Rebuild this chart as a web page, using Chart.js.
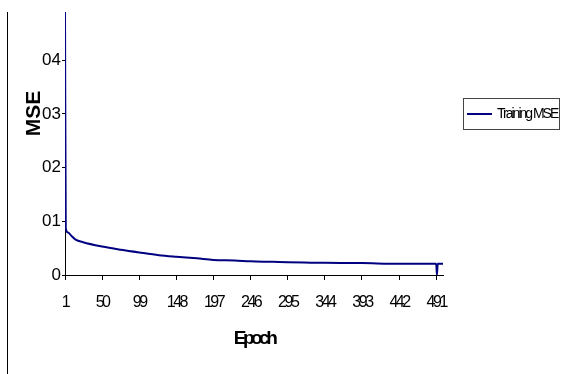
<!DOCTYPE html>
<html><head><meta charset="utf-8">
<script src="https://cdn.jsdelivr.net/npm/chart.js@4/dist/chart.umd.min.js"></script>
<style>
html,body{margin:0;padding:0;background:#fff;}
#wrap{position:relative;width:563px;height:374px;}
#vline{position:absolute;left:7px;top:12px;width:1px;height:362px;background:#000;}
canvas{position:absolute;left:0;top:0;}
</style></head><body>
<div id="wrap"><div id="vline"></div><canvas id="c" width="563" height="374"></canvas></div>
<script>
const epochs = [1, 2, 5, 10, 15, 25, 50, 75, 99, 125, 148, 175, 197, 225, 246, 275, 295, 325, 344, 393, 442, 491, 492, 493, 500];
const mseValues = [0.49, 0.087, 0.079, 0.072, 0.066, 0.061, 0.053, 0.047, 0.042, 0.037, 0.034, 0.031, 0.028, 0.027, 0.0255, 0.0245, 0.0236, 0.023, 0.0227, 0.0222, 0.021, 0.021, 0, 0.021, 0.021];
const xTickValues = [1, 50, 99, 148, 197, 246, 295, 344, 393, 442, 491];
const yTickLabels = ['0', '01', '02', '03', '04'];
const seriesName = 'Training MSE';
const xTitle = 'Epoch';
const yTitle = 'MSE';
const FONT = '"Liberation Sans", Arial, sans-serif';

const points = epochs.map((e, i) => ({x: e, y: mseValues[i]}));

const deco = {
  id: 'deco',
  afterUpdate(chart) {
    const xs = chart.scales.x;
    if (!xs._wrapped) {
      const dl = xs.drawLabels, dt = xs.drawTitle;
      xs.drawLabels = function(a) { const c = this.ctx; c.save(); c.letterSpacing = '-2.5px'; dl.call(this, a); c.restore(); };
      xs.drawTitle = function(a) { const c = this.ctx; c.save(); c.letterSpacing = '-3.5px'; dt.call(this, a); c.restore(); };
      xs._wrapped = true;
    }
  },
  afterDraw(chart) {
    const ctx = chart.ctx;
    ctx.save();
    ctx.translate(34.5, 113.5);
    ctx.rotate(-Math.PI / 2);
    ctx.font = 'bold 21px ' + FONT;
    ctx.textAlign = 'center';
    ctx.textBaseline = 'middle';
    ctx.fillStyle = '#000';
    ctx.fillText(yTitle, 0, 0);
    ctx.restore();

    const ds = chart.data.datasets[0];
    ctx.save();
    ctx.strokeStyle = '#444';
    ctx.lineWidth = 1;
    ctx.strokeRect(463.5, 98.5, 96, 31);
    ctx.strokeStyle = ds.borderColor;
    ctx.lineWidth = 2;
    ctx.beginPath();
    ctx.moveTo(467, 114);
    ctx.lineTo(492, 114);
    ctx.stroke();
    ctx.font = '14px ' + FONT;
    ctx.letterSpacing = '-2px';
    ctx.fillStyle = '#000';
    ctx.textAlign = 'left';
    ctx.textBaseline = 'middle';
    ctx.fillText(ds.label, 497, 114);
    ctx.restore();
  }
};

new Chart(document.getElementById('c'), {
  type: 'line',
  data: {
    datasets: [{
      label: seriesName,
      data: points,
      borderColor: '#000080',
      borderWidth: 2,
      pointRadius: 0,
      fill: false,
      cubicInterpolationMode: 'monotone'
    }]
  },
  options: {
    responsive: false,
    animation: false,
    devicePixelRatio: 1,
    layout: {padding: {left: 0, right: 120, top: 12, bottom: 0}},
    plugins: {legend: {display: false}, tooltip: {enabled: false}},
    scales: {
      x: {
        type: 'linear',
        min: 1,
        max: 500,
        afterBuildTicks: s => { s.ticks = xTickValues.map(v => ({value: v})); },
        afterFit: s => { s.height = 99; },
        ticks: {font: {family: FONT, size: 16}, color: '#000', padding: 13, maxRotation: 0, autoSkip: false, callback: v => String(v)},
        grid: {drawOnChartArea: false, color: '#000', tickLength: 5},
        border: {color: '#000', width: 1},
        title: {display: true, text: xTitle, color: '#000', font: {family: FONT, size: 19, weight: 'bold'}, padding: {top: 0, bottom: 24}}
      },
      y: {
        type: 'linear',
        min: 0,
        max: 0.49,
        afterFit: s => { s.width = 65; },
        ticks: {stepSize: 0.1, includeBounds: false, font: {family: FONT, size: 17}, color: '#000', padding: 1,
          callback: v => yTickLabels[Math.round(v * 10)]},
        grid: {drawOnChartArea: false, color: '#000', tickLength: 3},
        border: {color: '#000', width: 1}
      }
    }
  },
  plugins: [deco]
});
</script>
</body></html>
